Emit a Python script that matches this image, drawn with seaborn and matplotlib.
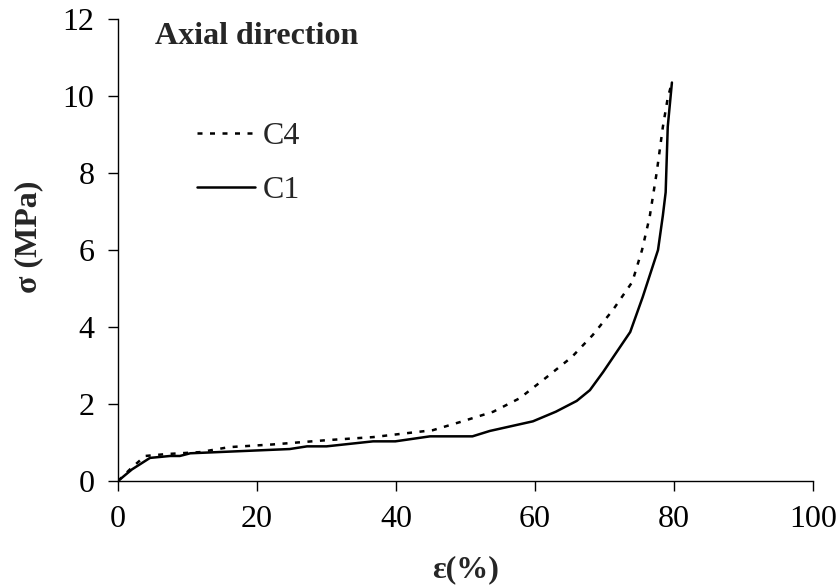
import matplotlib
matplotlib.use("Agg")
import matplotlib.pyplot as plt
import seaborn as sns
import pandas as pd

c1_strain = [0, 2, 4.6, 7.5, 8.9, 10.4, 24.7, 27.2, 30, 36.7, 39.9, 44.9, 51, 53.5,
             59.7, 63, 66, 67.9, 69.8, 73.7, 75.5, 77.7, 78.4, 78.8, 79.1, 79.7]
c1_stress = [0, 0.3, 0.6, 0.65, 0.65, 0.72, 0.83, 0.9, 0.9, 1.03, 1.03, 1.16, 1.16, 1.3,
             1.55, 1.8, 2.08, 2.36, 2.83, 3.87, 4.78, 6.0, 6.9, 7.5, 9.2, 10.35]
c4_strain = [0, 2, 3.9, 7, 11.8, 16, 22.3, 30, 36.7, 40.5, 45.3, 49.2, 54, 57.8,
             61.7, 65.3, 68.3, 71.2, 74, 75.4, 76.5, 77.5, 78.4, 79.1, 79.7]
c4_stress = [0, 0.35, 0.65, 0.7, 0.75, 0.88, 0.95, 1.06, 1.14, 1.22, 1.32, 1.53, 1.8, 2.15,
             2.7, 3.22, 3.79, 4.44, 5.17, 6.0, 6.86, 8.0, 9.2, 9.95, 10.35]
series_names = ["C4", "C1"]
x_ticks = [0, 20, 40, 60, 80, 100]
y_ticks = [0, 2, 4, 6, 8, 10, 12]

df = pd.concat([
    pd.DataFrame({"strain": c4_strain, "stress": c4_stress, "series": "C4"}),
    pd.DataFrame({"strain": c1_strain, "stress": c1_stress, "series": "C1"}),
])

sns.set_theme(style="ticks")
plt.rcParams["font.family"] = ["Liberation Serif", "DejaVu Serif"]

fig = plt.figure(figsize=(8.38, 5.85), dpi=100)
ax = fig.add_axes([118 / 838, 1 - 481 / 585, (813 - 118) / 838, (481 - 19) / 585])

styles = {"C4": (0, (2, 3)), "C1": "-"}
for name in series_names:
    sub = df[df["series"] == name]
    sns.lineplot(data=sub, x="strain", y="stress", ax=ax, color="black",
                 linewidth=1.8, linestyle=styles[name], sort=False,
                 estimator=None, label=name)

ax.set_xlim(0, 100)
ax.set_ylim(0, 12)
ax.set_xticks(x_ticks)
ax.set_yticks(y_ticks)
ax.tick_params(axis="both", labelsize=23, colors="black", width=1.0, length=7,
               direction="out", pad=10)
for s in ["top", "right"]:
    ax.spines[s].set_visible(False)
for s in ["left", "bottom"]:
    ax.spines[s].set_linewidth(1.0)
    ax.spines[s].set_color("black")

ax.set_xlabel("ε(%)", fontsize=23, fontweight="bold")
ax.set_ylabel("σ (MPa)", fontsize=23, fontweight="bold")
ax.xaxis.set_label_coords((466 - 118) / 695, -(570 - 481) / 462)
ax.yaxis.set_label_coords(-(118 - 29) / 695, (481 - 237) / 462)
ax.yaxis.label.set_va("center")
ax.xaxis.label.set_va("center")

ax.text(5.3, 11.55, "Axial direction", fontsize=23, fontweight="bold",
        ha="left", va="center")

leg = ax.legend(loc="upper left", bbox_to_anchor=(197 / 838, 1 - 122 / 585),
                bbox_transform=fig.transFigure, frameon=False, fontsize=23,
                handlelength=1.8, handletextpad=0.25, labelspacing=0.75,
                borderpad=0, borderaxespad=0)

fig.savefig("out.png", dpi=100)
